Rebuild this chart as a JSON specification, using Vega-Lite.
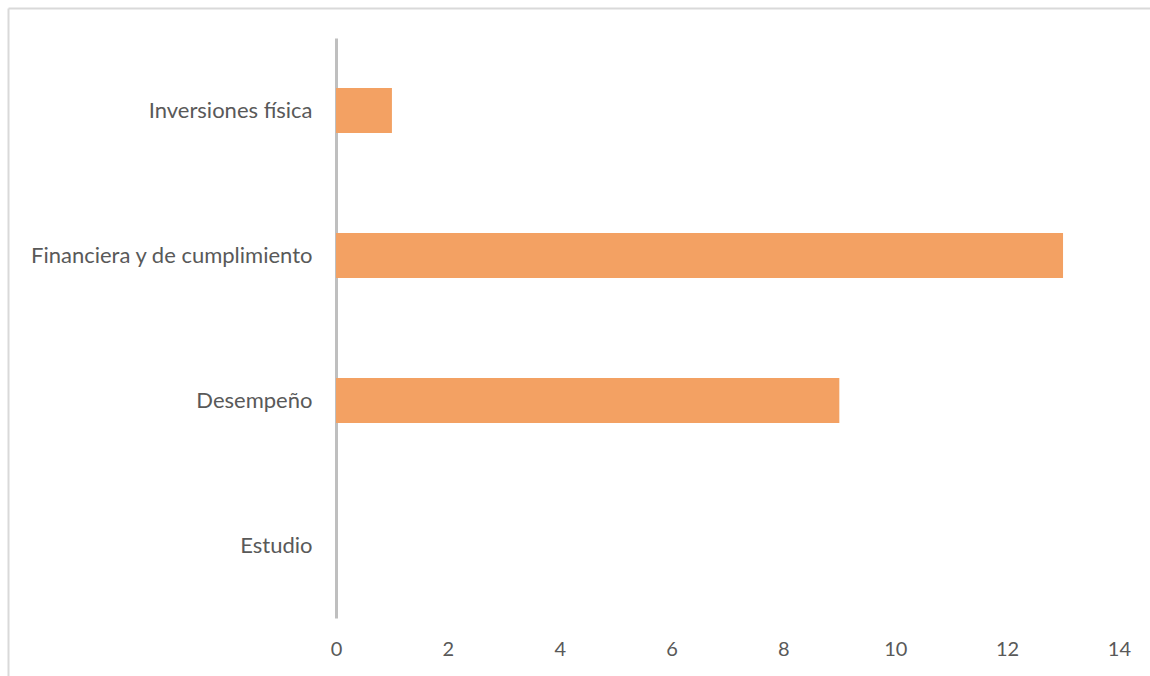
{
  "$schema": "https://vega.github.io/schema/vega-lite/v6.json",
  "autosize": "none",
  "padding": {"left": 8, "top": 8, "right": 0, "bottom": 0},
  "width": 1142,
  "height": 668,
  "background": "white",
  "config": {
    "view": {"stroke": null},
    "font": "Lato"
  },
  "data": {
    "values": [
      {"categoria": "Inversiones física", "valor": 1},
      {"categoria": "Financiera y de cumplimiento", "valor": 13},
      {"categoria": "Desempeño", "valor": 9},
      {"categoria": "Estudio", "valor": 0}
    ]
  },
  "resolve": {"scale": {"y": "independent"}, "axis": {"x": "independent", "y": "independent"}},
  "layer": [
    {
      "mark": {"type": "bar", "opacity": 0},
      "encoding": {
        "y": {
          "field": "categoria",
          "type": "nominal",
          "sort": null,
          "axis": {
            "title": null,
            "orient": "left",
            "domainColor": "#d9d9d9",
            "domainWidth": 2,
            "ticks": false,
            "labels": false
          }
        },
        "x": {
          "field": "valor",
          "type": "quantitative",
          "scale": {"domain": [-5.865, 14.555], "nice": false, "zero": false},
          "axis": {
            "title": null,
            "orient": "top",
            "domainColor": "#d9d9d9",
            "domainWidth": 2,
            "ticks": false,
            "labels": false,
            "grid": false
          }
        }
      }
    },
    {
      "mark": {"type": "bar", "color": "#f3a163"},
      "encoding": {
        "y": {
          "field": "categoria",
          "type": "nominal",
          "sort": null,
          "scale": {"range": [30, 610], "paddingInner": 0.69, "paddingOuter": 0.345},
          "axis": {
            "title": null,
            "orient": "left",
            "offset": -328,
            "domainColor": "#bfbfbf",
            "domainWidth": 3,
            "ticks": false,
            "labelPadding": 24,
            "labelFontSize": 22,
            "labelLimit": 500,
            "labelColor": "#595959",
            "labelFont": "Lato"
          }
        },
        "x": {
          "field": "valor",
          "type": "quantitative",
          "scale": {"domain": [-5.865, 14.555], "nice": false, "zero": false},
          "axis": {
            "title": null,
            "orient": "bottom",
            "values": [0, 2, 4, 6, 8, 10, 12, 14],
            "offset": -27,
            "domain": false,
            "ticks": false,
            "grid": false,
            "labelPadding": 0,
            "labelBaseline": "middle",
            "labelFontSize": 20,
            "labelColor": "#595959",
            "labelFont": "Lato"
          }
        }
      }
    }
  ]
}
